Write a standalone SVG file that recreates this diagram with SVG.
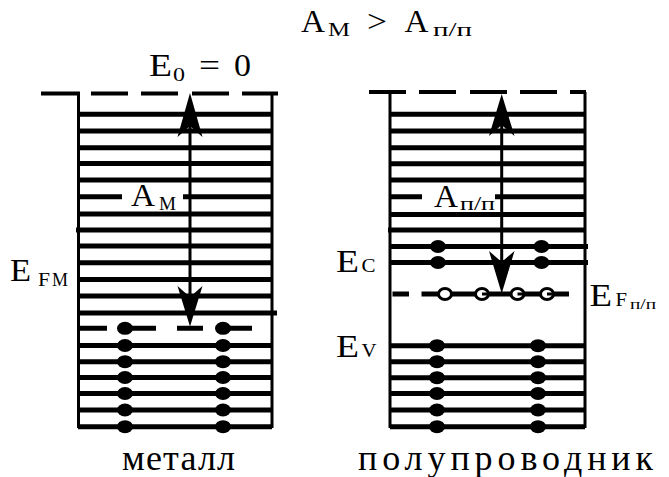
<svg xmlns="http://www.w3.org/2000/svg" width="669" height="477" viewBox="0 0 669 477">
<style>
.lv{stroke:#000;stroke-width:5;fill:none}
.top{stroke:#000;stroke-width:4;fill:none}
.wall{stroke:#000;stroke-width:3;fill:none}
.arr{stroke:#000;stroke-width:3;fill:none}
text{font-family:"Liberation Serif","Times New Roman",serif;fill:#000}
.m{font-size:31px}
.s{font-size:18px}
.ss{font-size:14px}
.b{font-size:36px}
.dot{fill:#000}
.hole{fill:#fff;stroke:#000;stroke-width:3}
</style>
<rect width="669" height="477" fill="#fff"/>
<g id="title">
<text class="m" x="301" y="32" textLength="24" lengthAdjust="spacingAndGlyphs">A</text>
<text class="s" x="328" y="35.5" textLength="22" lengthAdjust="spacingAndGlyphs">М</text>
<text class="m" x="367" y="32" textLength="20" lengthAdjust="spacingAndGlyphs">&gt;</text>
<text class="m" x="404.5" y="32" textLength="24" lengthAdjust="spacingAndGlyphs">A</text>
<text class="s" x="433" y="35.5" textLength="39" lengthAdjust="spacingAndGlyphs">п/п</text>
</g>
<g id="metal">
<path class="top" d="M41 93.5H80M91 93.5H128M141 93.5H178M192 93.5H229M242 93.5H278"/>
<path class="wall" d="M78.5 93.5V428M272 93.5V428"/>
<path class="lv" d="M78 114.3H272M78 131H272M78 147.7H272M78 163.5H272M78 180H272M78 196.7H122M183 196.7H272M78 214H272M76 230H272M78 246H272M78 262.7H272M77 279.5H272M78 296H272M78 313H277M78 345.5H272M78 361.7H272M78 377.5H272M78 393.5H272M78 410H272M78 426.7H272"/>
<path class="lv" d="M80 328.3H107M125 328.3H156M177 328.3H203M223 328.3H252"/>
<g class="dot">
<ellipse cx="125" cy="328.3" rx="8" ry="6.5"/><ellipse cx="125" cy="345.5" rx="8" ry="6.5"/><ellipse cx="125" cy="361.7" rx="8" ry="6.5"/><ellipse cx="125" cy="377.5" rx="8" ry="6.5"/><ellipse cx="125" cy="393.5" rx="8" ry="6.5"/><ellipse cx="125" cy="410" rx="8" ry="6.5"/><ellipse cx="125" cy="426.7" rx="8" ry="6.5"/>
<ellipse cx="223" cy="328.3" rx="8" ry="6.5"/><ellipse cx="223" cy="345.5" rx="8" ry="6.5"/><ellipse cx="223" cy="361.7" rx="8" ry="6.5"/><ellipse cx="223" cy="377.5" rx="8" ry="6.5"/><ellipse cx="223" cy="393.5" rx="8" ry="6.5"/><ellipse cx="223" cy="410" rx="8" ry="6.5"/><ellipse cx="223" cy="426.7" rx="8" ry="6.5"/>
</g>
<text class="m" x="149" y="76" textLength="23" lengthAdjust="spacingAndGlyphs">E</text>
<text class="s" x="173" y="81" textLength="12" lengthAdjust="spacingAndGlyphs">0</text>
<text class="m" x="199" y="76" textLength="21" lengthAdjust="spacingAndGlyphs">=</text>
<text class="m" x="234" y="76" textLength="17" lengthAdjust="spacingAndGlyphs">0</text>
<text class="m" x="131" y="206" textLength="24" lengthAdjust="spacingAndGlyphs">A</text>
<text class="s" x="159" y="210" textLength="17" lengthAdjust="spacingAndGlyphs">М</text>
<text class="m" x="10" y="281" textLength="21" lengthAdjust="spacingAndGlyphs">E</text>
<text class="s" x="38" y="285.5" textLength="12" lengthAdjust="spacingAndGlyphs">F</text>
<text class="s" x="52" y="285.5" textLength="16" lengthAdjust="spacingAndGlyphs">М</text>
<text class="b" x="122" y="470" textLength="113" lengthAdjust="spacing">металл</text>
</g>
<g id="semiconductor">
<path class="top" d="M369 92H406M419 92H456M470 92H507M520 92H557M570 92H586"/>
<path class="wall" d="M390 92V428M585 92V428"/>
<path class="lv" d="M390 114.3H585M390 131H585M390 147.7H585M390 163.7H585M390 180H585M390 196.7H422M495 196.7H585M390 214.5H585M388 230H585M390 246.5H588M390 262.5H588M390 345.7H585M390 361.7H585M390 377.7H585M390 393.5H585M390 410H585M390 426.7H585"/>
<path class="lv" d="M392.5 294H409M421.5 294H569"/>
<g class="dot">
<ellipse cx="438" cy="246.5" rx="8" ry="6.5"/><ellipse cx="438" cy="262.5" rx="8" ry="6.5"/>
<ellipse cx="541.5" cy="246.5" rx="8" ry="6.5"/><ellipse cx="541.5" cy="262.5" rx="8" ry="6.5"/>
<ellipse cx="437" cy="345.7" rx="8" ry="6.5"/><ellipse cx="437" cy="361.7" rx="8" ry="6.5"/><ellipse cx="437" cy="377.7" rx="8" ry="6.5"/><ellipse cx="437" cy="393.5" rx="8" ry="6.5"/><ellipse cx="437" cy="410" rx="8" ry="6.5"/><ellipse cx="437" cy="426.7" rx="8" ry="6.5"/>
<ellipse cx="538" cy="345.7" rx="8" ry="6.5"/><ellipse cx="538" cy="361.7" rx="8" ry="6.5"/><ellipse cx="538" cy="377.7" rx="8" ry="6.5"/><ellipse cx="538" cy="393.5" rx="8" ry="6.5"/><ellipse cx="538" cy="410" rx="8" ry="6.5"/><ellipse cx="538" cy="426.7" rx="8" ry="6.5"/>
</g>
<g>
<ellipse class="hole" cx="445" cy="294" rx="6.5" ry="5.5"/>
<ellipse class="hole" cx="482" cy="294" rx="6.5" ry="5.5"/>
<ellipse class="hole" cx="517.5" cy="294" rx="6.5" ry="5.5"/>
<ellipse class="hole" cx="547" cy="294" rx="6.5" ry="5.5"/>
<path class="arr" d="M482 294H488M517.5 294H524M547 294H553"/>
</g>
<text class="m" x="434" y="206.5" textLength="24" lengthAdjust="spacingAndGlyphs">A</text>
<text class="s" x="460" y="210" textLength="35" lengthAdjust="spacingAndGlyphs">п/п</text>
<text class="m" x="336" y="272" textLength="23" lengthAdjust="spacingAndGlyphs">E</text>
<text class="s" x="361.5" y="272" textLength="14" lengthAdjust="spacingAndGlyphs">C</text>
<text class="m" x="336" y="357" textLength="23" lengthAdjust="spacingAndGlyphs">E</text>
<text class="s" x="361.5" y="357" textLength="15" lengthAdjust="spacingAndGlyphs">V</text>
<text class="m" x="589.5" y="306" textLength="22.5" lengthAdjust="spacingAndGlyphs">E</text>
<text class="s" x="615.5" y="306" textLength="11.5" lengthAdjust="spacingAndGlyphs">F</text>
<text class="ss" x="630" y="309" textLength="26" lengthAdjust="spacingAndGlyphs">п/п</text>
<text class="b" x="358" y="470" textLength="295" lengthAdjust="spacing">полупроводник</text>
</g>
<g id="connectors">
<path class="arr" d="M190 120V300"/>
<polygon points="190,93 202.5,137 190,126 177.5,137"/>
<polygon points="190,326.5 202.5,286 190,297 177.5,286"/>
<path class="arr" d="M501.7 120V265"/>
<polygon points="501.7,94 514.5,136 501.7,125 489,136"/>
<polygon points="501.7,293.5 514.5,251 501.7,262 489,251"/>
</g>
</svg>
